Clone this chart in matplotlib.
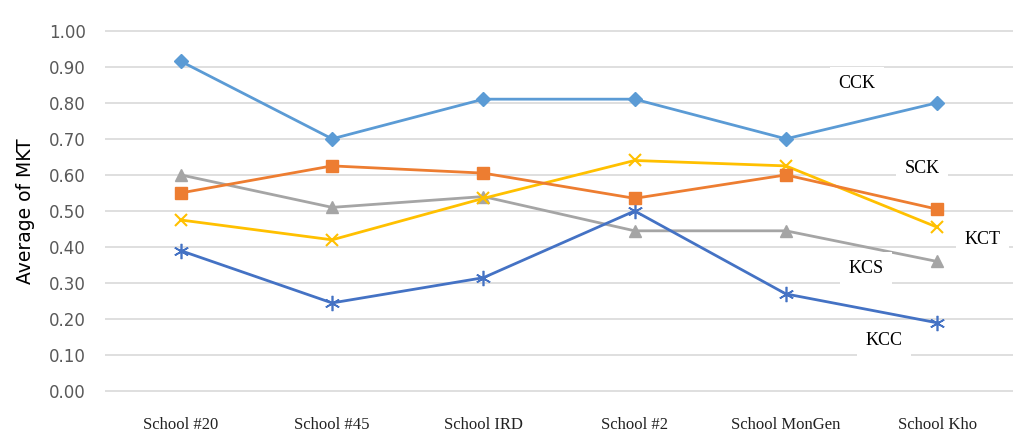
import matplotlib.pyplot as plt

# Data
schools = ['School #20', 'School #45', 'School IRD', 'School #2', 'School MonGen', 'School Kho']
cck = [0.915, 0.70, 0.81, 0.81, 0.70, 0.80]
sck = [0.55, 0.625, 0.605, 0.535, 0.60, 0.505]
kcs = [0.60, 0.51, 0.54, 0.445, 0.445, 0.36]
kct = [0.475, 0.42, 0.535, 0.64, 0.625, 0.455]
kcc = [0.39, 0.245, 0.315, 0.50, 0.27, 0.19]
y_ticks = [0.0, 0.1, 0.2, 0.3, 0.4, 0.5, 0.6, 0.7, 0.8, 0.9, 1.0]

fig = plt.figure(figsize=(10.21, 4.4), dpi=100)
ax = fig.add_axes([0.103, 0.109, 0.889, 0.823])

x = list(range(len(schools)))
ax.plot(x, kcs, color='#A5A5A5', lw=2, marker='^', ms=9, zorder=3)
ax.plot(x, kct, color='#FFC000', lw=2, marker='x', ms=9, mew=1.5, zorder=3)
ax.plot(x, sck, color='#ED7D31', lw=2, marker='s', ms=8, zorder=4)
ax.plot(x, kcc, color='#4472C4', lw=2, marker=(6, 2, 0), ms=11, mew=1.2,
        mec='#4472C4', zorder=3)
ax.plot(x, cck, color='#5B9BD5', lw=2, marker='D', ms=7, zorder=4)

ax.set_xlim(-0.5, len(schools) - 0.5)
ax.set_ylim(-0.002, 1.002)
ax.set_yticks(y_ticks)
ax.set_yticklabels([f'{v:.2f}' for v in y_ticks])
ax.set_xticks(x)
ax.set_xticklabels(schools, family='Liberation Serif', fontsize=12)
ax.tick_params(axis='x', length=0, pad=18, colors='#222222')
ax.tick_params(axis='y', length=0, pad=14, labelsize=12, labelcolor='#595959')
ax.yaxis.grid(True, color='#D9D9D9', lw=1.2)
ax.set_axisbelow(True)
for s in ax.spines.values():
    s.set_visible(False)
ax.set_ylabel('Average of MKT', fontsize=13.5, labelpad=10, color='black')

# series labels with white background
lab_kw = dict(family='Liberation Serif', fontsize=13, ha='center', va='center',
              bbox=dict(facecolor='white', edgecolor='none', pad=6), zorder=5)
ax.text(4.47, 0.853, 'CCK', **lab_kw)
ax.text(4.9, 0.617, 'SCK', **lab_kw)
ax.text(5.3, 0.42, 'KCT', **lab_kw)
ax.text(4.53, 0.34, 'KCS', **lab_kw)
ax.text(4.65, 0.14, 'KCC', **lab_kw)

fig.savefig('out.png', dpi=100)
